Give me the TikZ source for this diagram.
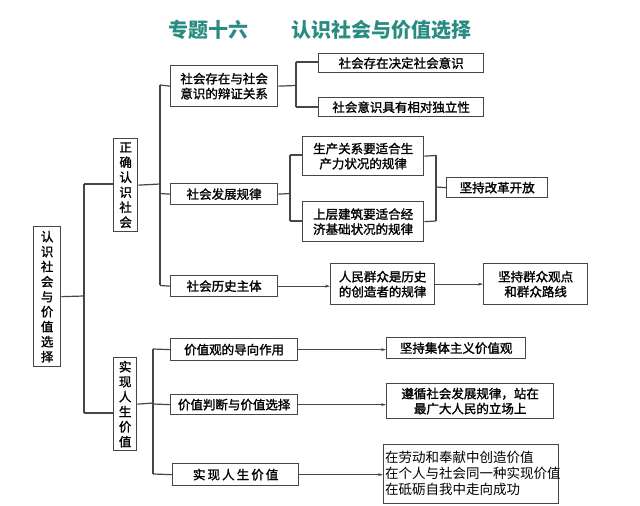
\documentclass[tikz,border=0pt]{standalone}
\usepackage{fontspec}
\setmainfont{Noto Sans CJK SC}
\newfontfamily\cjkb[FakeBold=1.5]{Noto Sans CJK SC}
\usetikzlibrary{arrows.meta}
\definecolor{ttl}{RGB}{40,140,130}
\definecolor{ln}{RGB}{70,70,70}
\begin{document}
\begin{tikzpicture}[x=1pt,y=-1pt,
  bx/.style={draw=ln,line width=1.3pt,fill=white,inner sep=1pt,font=\cjkb\fontsize{12.5}{15}\selectfont,align=center,anchor=north west},
  ln/.style={draw=ln,line width=1.2pt},
  ar/.style={draw=ln,line width=0.9pt,-{Stealth[length=5pt,width=3pt]}}]
\useasboundingbox (0,0) rectangle (640,506);
\fill[white] (0,0) rectangle (640,506);
\node[font=\fontsize{20}{24}\selectfont\bfseries,text=ttl] (title) at (320,30) {专题十六\hspace{2.2em}认识社会与价值选择};
\newcommand\B[6]{\node[bx,minimum width=#3-#2,minimum height=#5-#4,text width=#3-#2-4] (#1) at (#2,#4) {#6};}
\B{root}{33}{60}{226}{366}{认\\识\\社\\会\\与\\价\\值\\选\\择}
\B{zq}{113}{137}{138}{231}{正\\确\\认\\识\\社\\会}
\B{sx}{113}{136}{357}{450}{实\\现\\人\\生\\价\\值}
\B{a1}{170}{277}{65}{106}{社会存在与社会\\意识的辩证关系}
\B{a2}{170}{277}{183}{204}{社会发展规律}
\B{a3}{170}{277}{275}{296}{社会历史主体}
\B{b1}{318}{483}{53}{72}{社会存在决定社会意识}
\B{b2}{318}{483}{97}{116}{社会意识具有相对独立性}
\B{c1}{302}{423}{136}{175}{生产关系要适合生\\产力状况的规律}
\B{c2}{302}{423}{201}{241}{上层建筑要适合经\\济基础状况的规律}
\B{c3}{446}{547}{177}{197}{坚持改革开放}
\B{d1}{330}{434}{263}{304}{人民群众是历史\\的创造者的规律}
\B{d2}{483}{587}{263}{304}{坚持群众观点\\和群众路线}
\B{e1}{170}{297}{338}{360}{价值观的导向作用}
\B{e2}{170}{297}{394}{414}{价值判断与价值选择}
\B{e3}{172}{298}{463}{485}{实\,现\,人\,生\,价\,值}
\B{f1}{386}{525}{337}{358}{坚持集体主义价值观}
\B{f2}{386}{553}{383}{418}{遵循社会发展规律，站在\\最广大人民的立场上}
\node[draw=ln,line width=1.3pt,fill=white,anchor=north west,minimum width=175,minimum height=59,inner sep=0pt] (f3) at (383,444) {};
\node[anchor=west,align=left,font=\fontsize{13.5}{16}\selectfont,inner sep=0pt] (f3t) at (385,473) {在劳动和奉献中创造价值\\在个人与社会同一种实现价值\\在砥砺自我中走向成功};
% connectors
\draw[ln] (root.east) -- (84,296) coordinate (r0);
\draw[ln] (84,184) -- (84,413);
\draw[ln] (84,184) -- (zq.west|-84,184);
\draw[ln] (84,413) -- (sx.west|-84,413);
\draw[ln] (zq.east) -- (160,184);
\draw[ln] (160,85) -- (160,285);
\draw[ln] (160,85) -- (a1.west); \draw[ln] (160,193.5) -- (a2.west); \draw[ln] (160,285.5) -- (a3.west);
\draw[ln] (a1.east) -- (296,85.5); \draw[ln] (296,62) -- (296,107);
\draw[ln] (296,62) -- (b1.west|-296,62); \draw[ln] (296,107) -- (b2.west|-296,107);
\draw[ln] (a2.east) -- (290,193.5); \draw[ln] (290,155) -- (290,221);
\draw[ln] (290,155) -- (c1.west|-290,155); \draw[ln] (290,221) -- (c2.west|-290,221);
\draw[ln] (c1.east) -- (436,155.5); \draw[ln] (c2.east) -- (436,221); \draw[ln] (436,155) -- (436,221);
\draw[ln] (436,187) -- (c3.west);
\draw[ar] (a3.east) -- (d1.west|-a3.east);
\draw[ar] (d1.east) -- (d2.west);
\draw[ln] (sx.east) -- (153,403); \draw[ln] (153,349) -- (153,474);
\draw[ln] (153,349) -- (e1.west); \draw[ln] (153,404) -- (e2.west); \draw[ln] (153,474) -- (e3.west);
\draw[ar] (e1.east) -- (f1.west|-e1.east);
\draw[ar] (e2.east) -- (f2.west|-e2.east);
\draw[ar] (e3.east) -- (f3.west|-e3.east);
\end{tikzpicture}
\end{document}
